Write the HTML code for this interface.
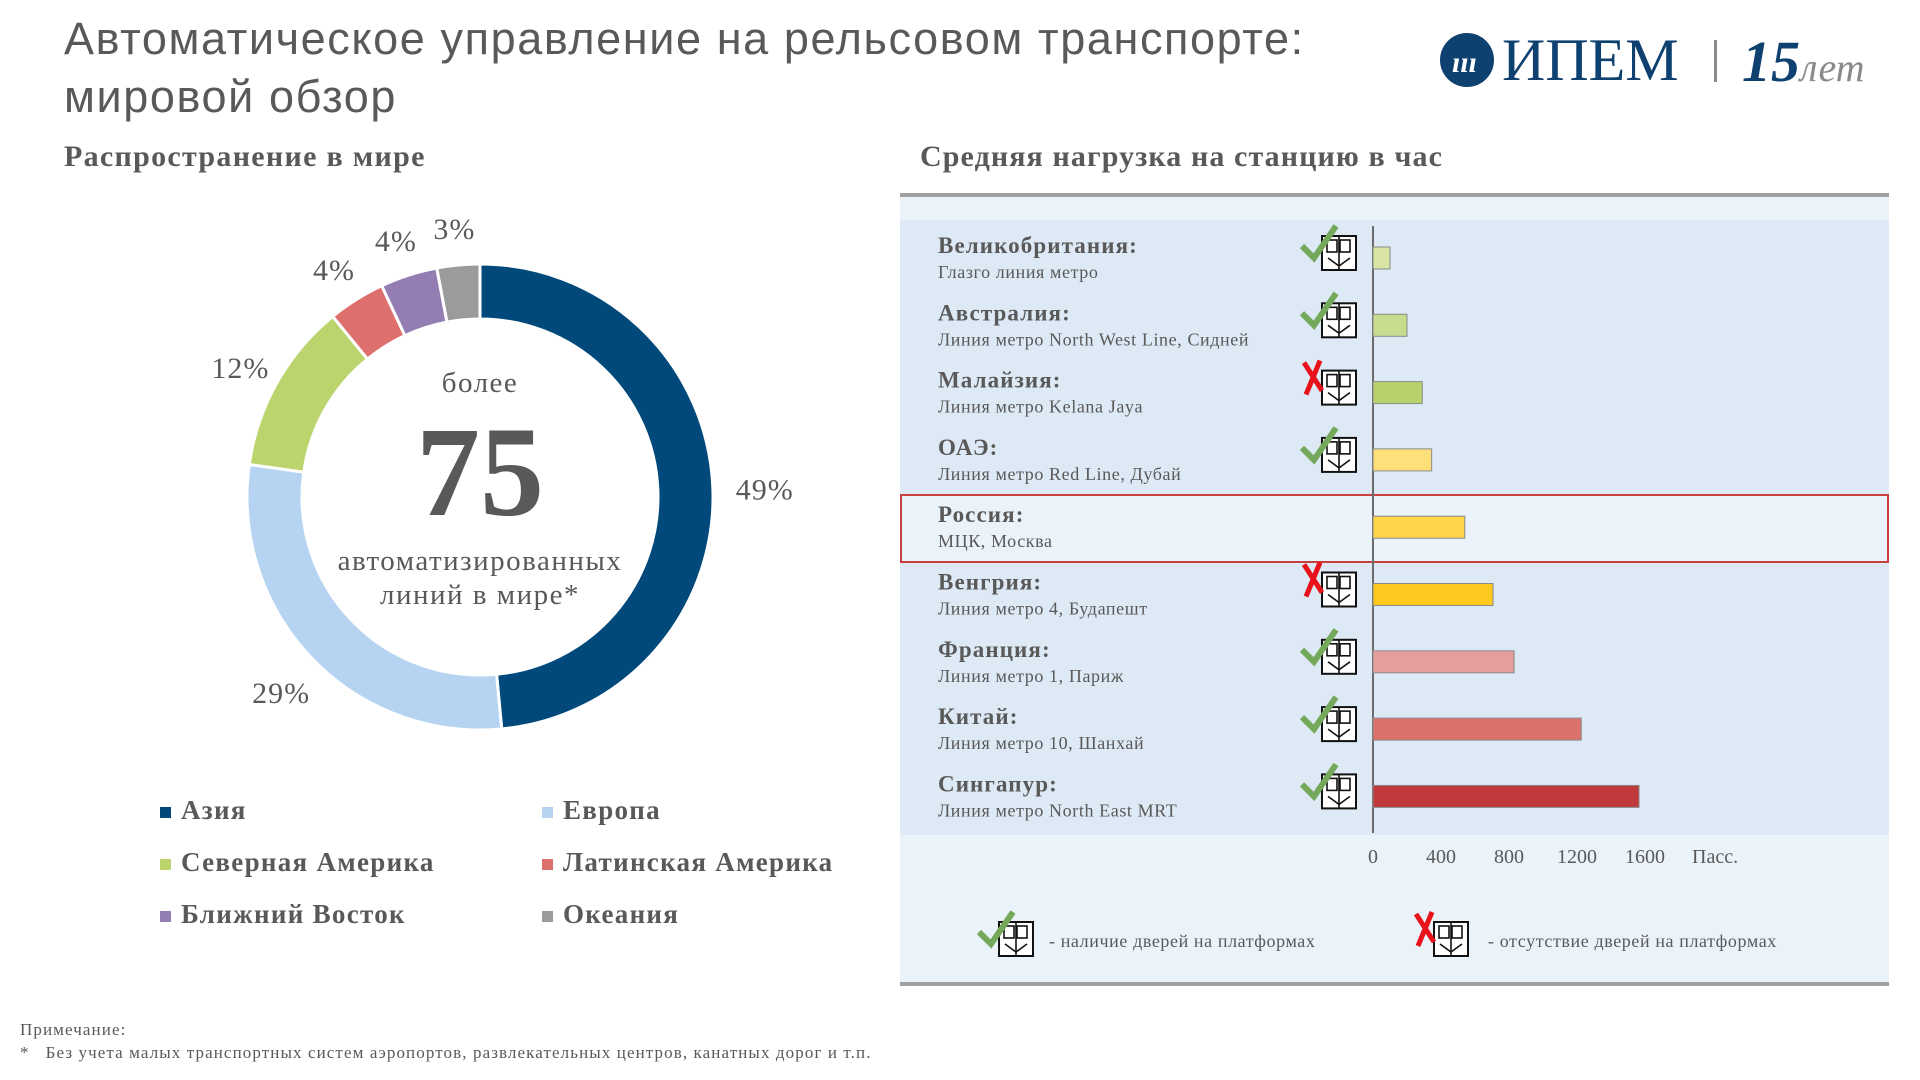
<!DOCTYPE html>
<html><head><meta charset="utf-8"><style>
body{margin:0;width:1920px;height:1080px;background:#fff;overflow:hidden;position:relative;font-family:"Liberation Serif",serif;color:#595959}
.a{position:absolute;white-space:nowrap}
</style></head><body>
<div class="a" style="left:64px;top:10px;font-family:'Liberation Sans','DejaVu Sans',sans-serif;font-size:45px;letter-spacing:1.6px;line-height:58px;color:#595959">Автоматическое управление на рельсовом транспорте:<br>мировой обзор</div>
<div class="a" style="left:1440px;top:30px;width:430px;height:60px">
 <svg width="430" height="60"><circle cx="27" cy="30" r="27" fill="#0f4170"/><text x="12" y="42" font-family="Liberation Serif" font-style="italic" font-weight="bold" font-size="30" fill="#fff">ııı</text></svg>
 <div class="a" style="left:62px;top:-4px;font-size:60px;color:#0f4170">ИПЕМ</div>
 <div class="a" style="left:274px;top:10px;width:3px;height:42px;background:#8a8a8a"></div>
 <div class="a" style="left:302px;top:-2px;font-size:58px;font-style:italic;font-weight:bold;color:#0f4170">15<span style="font-size:40px;color:#8a8a8a;font-weight:normal">лет</span></div>
</div>
<div class="a" style="left:64px;top:140px;font-size:30px;font-weight:bold;letter-spacing:1.3px">Распространение в мире</div>
<div class="a" style="left:920px;top:140px;font-size:30px;font-weight:bold;letter-spacing:1.1px">Средняя нагрузка на станцию в час</div>

<svg id="donut" class="a" style="left:0;top:0" width="900" height="1000"></svg>

<div class="a" style="left:280px;top:366px;width:400px;text-align:center;font-size:29px;letter-spacing:1.5px;line-height:34px">
 <div>более</div>
 <div style="font-size:128px;font-weight:bold;line-height:128px;margin:8px 0 8px;letter-spacing:0">75</div>
 <div>автоматизированных<br>линий в мире*</div>
</div>

<div id="legend"></div>

<div class="a" style="left:20px;top:1018px;font-size:17px;letter-spacing:1.1px;line-height:23px">Примечание:<br>*&nbsp;&nbsp; Без учета малых транспортных систем аэропортов, развлекательных центров, канатных дорог и т.п.</div>

<div class="a" style="left:900px;top:193px;width:989px;height:793px;background:#eaf2fa;border-top:4px solid #a0a0a0;border-bottom:4px solid #a0a0a0;box-sizing:border-box"></div>
<div class="a" style="left:900px;top:220px;width:989px;height:615px;background:#dde9f5"></div>
<div class="a" style="left:900px;top:494px;width:989px;height:69px;background:#eaf2fa;border:2px solid #c9413f;box-sizing:border-box"></div>
<svg id="bars" class="a" style="left:0;top:0" width="1920" height="1080"></svg>

<script>
const regions=["Азия","Европа","Северная Америка","Латинская Америка","Ближний Восток","Океания"];
const shares=[49,29,12,4,4,3];
const shareColors=["#00497a","#b6d4f1","#bbd46d","#dd706c","#937db3","#9b9b9b"];
const countries=["Великобритания:","Австралия:","Малайзия:","ОАЭ:","Россия:","Венгрия:","Франция:","Китай:","Сингапур:"];
const lines=["Глазго линия метро","Линия метро North West Line, Сидней","Линия метро Kelana Jaya","Линия метро Red Line, Дубай","МЦК, Москва","Линия метро 4, Будапешт","Линия метро 1, Париж","Линия метро 10, Шанхай","Линия метро North East MRT"];
const load=[100,200,290,345,540,706,830,1225,1565];
const doors=["yes","yes","no","yes","none","no","yes","yes","yes"];
const ticks=[0,400,800,1200,1600];
const barColors=["#d7e4a3","#c7dd8e","#b7d16c","#ffdf7a","#ffd54a","#ffc81f","#e59e9c","#dc706b","#c0393b"];
const NS="http://www.w3.org/2000/svg";
function mk(t,p,a){const e=document.createElementNS(NS,t);for(const k in a)e.setAttribute(k,a[k]);p.appendChild(e);return e;}

// donut
const dn=document.getElementById('donut');
const cx=480,cy=497,R=233,r=178,total=shares.reduce((a,b)=>a+b,0);
let ang=0;
shares.forEach((v,i)=>{
 const a0=ang/total*2*Math.PI,a1=(ang+v)/total*2*Math.PI;ang+=v;
 const P=(rad,a)=>[cx+rad*Math.sin(a),cy-rad*Math.cos(a)];
 const [x0,y0]=P(R,a0),[x1,y1]=P(R,a1),[x2,y2]=P(r,a1),[x3,y3]=P(r,a0);
 const lg=(a1-a0)>Math.PI?1:0;
 const p=mk('path',dn,{d:`M${x0},${y0}A${R},${R} 0 ${lg} 1 ${x1},${y1}L${x2},${y2}A${r},${r} 0 ${lg} 0 ${x3},${y3}Z`,fill:shareColors[i],stroke:'#fff','stroke-width':3});
 
 
 const am=(a0+a1)/2;const [lx,ly]=P(R+42+(i==0?10:0),am);
 const t=mk('text',dn,{x:lx,y:ly+16,'text-anchor':'middle','font-size':30,'letter-spacing':1,fill:'#595959','font-family':'Liberation Serif, serif'});
 t.textContent=v+'%';
 
 
});
// legend
const lgEl=document.getElementById('legend');
regions.forEach((n,i)=>{
 const d=document.createElement('div');d.className='a';
 
 
 const col=i%2,row=Math.floor(i/2);
 d.style.cssText=`left:${160+col*382}px;top:${795+row*52}px;font-size:27px;font-weight:bold;letter-spacing:1.3px`;
 d.innerHTML=`<span style="display:inline-block;width:11px;height:11px;background:${shareColors[i]};margin-right:10px;vertical-align:middle"></span>${n}`;
 lgEl.appendChild(d);
});

// bars
const sv=document.getElementById('bars');
const x0=1373,xs=272/1600,rowY=i=>258+i*67.3;
const X=v=>x0+v*xs;
mk('line',sv,{x1:x0,y1:226,x2:x0,y2:833,stroke:'#6b6b6b','stroke-width':2});
function icon(x,y,kind,name){
 const g=mk('g',sv,{transform:`translate(${x},${y})`});
 
 
 mk('rect',g,{x:22,y:14,width:34,height:34,fill:'#fff',stroke:'#111','stroke-width':2});
 mk('rect',g,{x:27,y:18,width:10,height:12,fill:'none',stroke:'#111','stroke-width':1.6});
 mk('rect',g,{x:40,y:18,width:10,height:12,fill:'none',stroke:'#111','stroke-width':1.6});
 mk('line',g,{x1:39,y1:14,x2:39,y2:48,stroke:'#111','stroke-width':1.6});
 mk('path',g,{d:'M28,36 L39,44 L50,36',fill:'none',stroke:'#111','stroke-width':1.6});
 if(kind=='yes')mk('path',g,{d:'M2,24 L14,36 L36,4',fill:'none',stroke:'#74a85a','stroke-width':6});
 else mk('path',g,{d:'M4,6 L22,34 M20,4 L6,38',fill:'none',stroke:'#e8121b','stroke-width':5});
}
countries.forEach((c,i)=>{
 const y=rowY(i);
 const t=mk('text',sv,{x:938,y:y-5,'font-size':23,'font-weight':'bold','letter-spacing':1.1,fill:'#595959','font-family':'Liberation Serif, serif'});t.textContent=c;
 
 
 const s=mk('text',sv,{x:938,y:y+20,'font-size':18,'letter-spacing':0.6,fill:'#595959','font-family':'Liberation Serif, serif'});s.textContent=lines[i];
 
 
 const b=mk('rect',sv,{x:X(0),y:y-11,width:X(load[i])-X(0),height:22,fill:barColors[i],stroke:'#8a8a8a','stroke-width':1});
 
 
 if(doors[i]!='none')icon(1300,y-36,doors[i],'door-icon-'+i);
});
ticks.forEach(v=>{
 const t=mk('text',sv,{x:X(v),y:863,'text-anchor':'middle','font-size':20,fill:'#595959','font-family':'Liberation Serif, serif'});t.textContent=v;
 
 
});
const u=mk('text',sv,{x:1692,y:863,'font-size':20,fill:'#595959','font-family':'Liberation Serif, serif'});u.textContent='Пасс.';


icon(977,908,'yes','legend-door-icon-yes');
icon(1412,908,'no','legend-door-icon-no');
const l1=mk('text',sv,{x:1049,y:947,'font-size':18,'letter-spacing':0.6,fill:'#595959','font-family':'Liberation Serif, serif'});l1.textContent='- наличие дверей на платформах';


const l2=mk('text',sv,{x:1488,y:947,'font-size':18,'letter-spacing':0.6,fill:'#595959','font-family':'Liberation Serif, serif'});l2.textContent='- отсутствие дверей на платформах';


</script>
</body></html>
